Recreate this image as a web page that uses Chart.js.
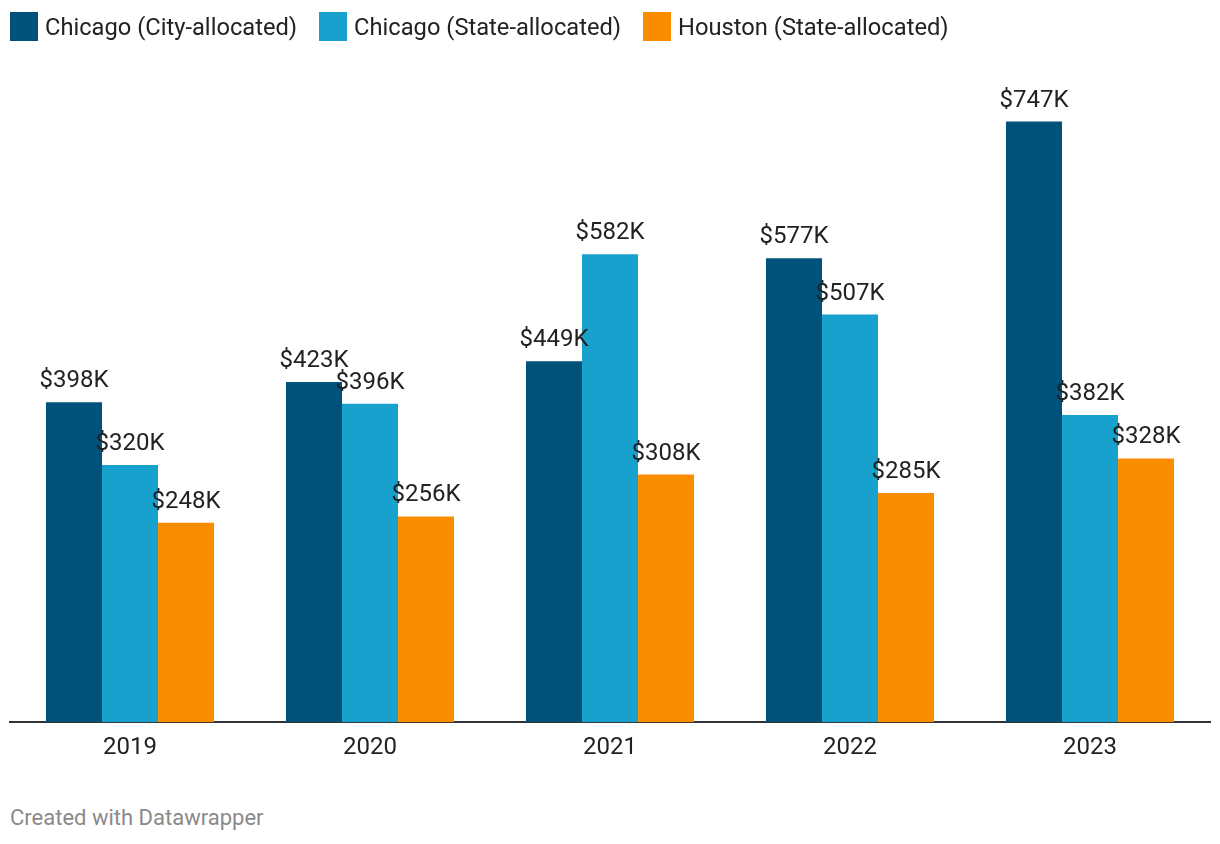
<!DOCTYPE html>
<html>
<head>
<meta charset="utf-8">
<script src="https://cdn.jsdelivr.net/npm/chart.js@4"></script>
<style>
  body { margin: 0; background: #fff; }
  #wrap { position: relative; width: 1220px; height: 844px; }
  #legend { position: absolute; left: 10px; top: 12px; display: flex; font: 23.7px Roboto, sans-serif; color: #222; }
  .item { display: flex; align-items: center; margin-right: 22px; height: 29px; }
  .sw { width: 28px; height: 29px; margin-right: 7px; }
  #myChart { position: absolute; left: 0; top: 0; }
  #credit { position: absolute; left: 10px; top: 805px; font: 22px Roboto, sans-serif; color: #8a8a8a; }
</style>
</head>
<body>
<div id="wrap">
  <canvas id="myChart" width="1220" height="790"></canvas>
  <div id="legend"></div>
  <div id="credit">Created with Datawrapper</div>
</div>
<script>
// data in thousands of dollars
var years = ["2019", "2020", "2021", "2022", "2023"];
var chicagoCity = [398, 423, 449, 577, 747];
var chicagoState = [320, 396, 582, 507, 382];
var houstonState = [248, 256, 308, 285, 328];
var seriesNames = ["Chicago (City-allocated)", "Chicago (State-allocated)", "Houston (State-allocated)"];
var seriesColors = ["#01527a", "#18a1cd", "#fa8c00"];

var canvas = document.getElementById("myChart");
canvas.style.width = "1220px";
canvas.style.height = "790px";

// legend built from the series
var legendEl = document.getElementById("legend");
for (var i = 0; i < seriesNames.length; i++) {
  var item = document.createElement("div");
  item.className = "item";
  var sw = document.createElement("span");
  sw.className = "sw";
  sw.style.background = seriesColors[i];
  item.appendChild(sw);
  item.appendChild(document.createTextNode(seriesNames[i]));
  legendEl.appendChild(item);
}

// labels on top of each bar
const barLabels = {
  id: "barLabels",
  afterDatasetsDraw(chart) {
    const ctx = chart.ctx;
    ctx.save();
    ctx.font = "24px Roboto, sans-serif";
    ctx.fillStyle = "#222";
    ctx.textAlign = "center";
    ctx.textBaseline = "alphabetic";
    chart.data.datasets.forEach(function (ds, i) {
      const meta = chart.getDatasetMeta(i);
      meta.data.forEach(function (bar, j) {
        ctx.fillText("$" + ds.data[j] + "K", bar.x, bar.y - 15);
      });
    });
    ctx.restore();
  }
};

const data = {
  labels: years,
  datasets: [
    { label: seriesNames[0], data: chicagoCity, backgroundColor: seriesColors[0] },
    { label: seriesNames[1], data: chicagoState, backgroundColor: seriesColors[1] },
    { label: seriesNames[2], data: houstonState, backgroundColor: seriesColors[2] }
  ]
};

const config = {
  type: "bar",
  data: data,
  options: {
    responsive: false,
    animation: false,
    categoryPercentage: 0.7,
    barPercentage: 1.0,
    layout: { padding: { left: 10, right: 10, top: 79, bottom: 25 } },
    plugins: {
      legend: { display: false },
      tooltip: { enabled: false }
    },
    scales: {
      x: {
        grid: { display: false },
        border: { display: true, color: "#333", width: 2 },
        ticks: { color: "#222", font: { family: "Roboto", size: 24 }, padding: 3 }
      },
      y: {
        display: false,
        min: 0,
        max: 800
      }
    }
  },
  plugins: [barLabels]
};

var chart = new Chart(canvas, config);
</script>
</body>
</html>
